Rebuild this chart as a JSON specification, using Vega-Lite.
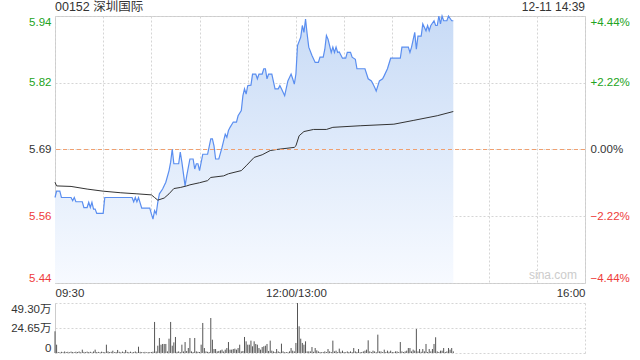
{
  "$schema": "https://vega.github.io/schema/vega-lite/v6.json",
  "padding": {"left": 10, "top": 0, "right": 0, "bottom": 0},
  "background": "white",
  "spacing": 3,
  "config": {
    "font": "Liberation Sans, Noto Sans CJK SC",
    "view": {"stroke": null},
    "axis": {"labelFontSize": 11.5, "ticks": false, "domain": false, "title": null, "labelFont": "Liberation Sans, Noto Sans CJK SC", "gridColor": "#d5d5d5", "gridDash": [2, 2], "labelPadding": 4}
  },
  "datasets": {
    "price": [
      {"t":0,"p":5.599},{"t":1,"p":5.611},{"t":3,"p":5.611},{"t":4,"p":5.599},{"t":10,"p":5.599},{"t":11,"p":5.593},{"t":12,"p":5.599},{"t":13,"p":5.591},{"t":17,"p":5.591},{"t":18,"p":5.58},{"t":20,"p":5.58},{"t":21,"p":5.59},{"t":22,"p":5.58},{"t":23,"p":5.59},{"t":24,"p":5.577},{"t":25,"p":5.577},{"t":26,"p":5.569},{"t":30,"p":5.569},{"t":31,"p":5.599},{"t":48,"p":5.599},{"t":49,"p":5.591},{"t":50,"p":5.599},{"t":51,"p":5.591},{"t":52,"p":5.599},{"t":54,"p":5.579},{"t":59,"p":5.579},{"t":60,"p":5.568},{"t":61,"p":5.558},{"t":62,"p":5.574},{"t":63,"p":5.568},{"t":64,"p":5.59},{"t":65,"p":5.606},{"t":67,"p":5.615},{"t":69,"p":5.628},{"t":71,"p":5.65},{"t":72,"p":5.666},{"t":73,"p":5.691},{"t":74,"p":5.663},{"t":77,"p":5.663},{"t":78,"p":5.685},{"t":79,"p":5.666},{"t":81,"p":5.621},{"t":82,"p":5.64},{"t":84,"p":5.672},{"t":86,"p":5.672},{"t":87,"p":5.653},{"t":88,"p":5.663},{"t":89,"p":5.663},{"t":90,"p":5.65},{"t":92,"p":5.681},{"t":95,"p":5.681},{"t":97,"p":5.71},{"t":98,"p":5.71},{"t":99,"p":5.697},{"t":100,"p":5.672},{"t":102,"p":5.672},{"t":104,"p":5.694},{"t":106,"p":5.719},{"t":107,"p":5.713},{"t":108,"p":5.726},{"t":109,"p":5.732},{"t":111,"p":5.742},{"t":113,"p":5.742},{"t":114,"p":5.754},{"t":116,"p":5.764},{"t":117,"p":5.792},{"t":118,"p":5.805},{"t":119,"p":5.795},{"t":120,"p":5.811},{"t":122,"p":5.812},{"t":123,"p":5.833},{"t":125,"p":5.833},{"t":126,"p":5.824},{"t":127,"p":5.833},{"t":129,"p":5.833},{"t":130,"p":5.843},{"t":131,"p":5.843},{"t":132,"p":5.824},{"t":133,"p":5.833},{"t":135,"p":5.833},{"t":137,"p":5.805},{"t":139,"p":5.805},{"t":140,"p":5.811},{"t":141,"p":5.805},{"t":143,"p":5.792},{"t":145,"p":5.82},{"t":147,"p":5.833},{"t":148,"p":5.824},{"t":149,"p":5.814},{"t":150,"p":5.833},{"t":151,"p":5.887},{"t":153,"p":5.903},{"t":154,"p":5.925},{"t":155,"p":5.912},{"t":156,"p":5.937},{"t":157,"p":5.909},{"t":158,"p":5.884},{"t":160,"p":5.868},{"t":162,"p":5.855},{"t":164,"p":5.855},{"t":165,"p":5.865},{"t":167,"p":5.865},{"t":168,"p":5.88},{"t":169,"p":5.906},{"t":170,"p":5.899},{"t":172,"p":5.874},{"t":173,"p":5.884},{"t":174,"p":5.874},{"t":175,"p":5.884},{"t":176,"p":5.874},{"t":177,"p":5.875},{"t":179,"p":5.863},{"t":181,"p":5.863},{"t":182,"p":5.874},{"t":184,"p":5.874},{"t":185,"p":5.865},{"t":187,"p":5.861},{"t":188,"p":5.843},{"t":193,"p":5.843},{"t":195,"p":5.824},{"t":197,"p":5.82},{"t":198,"p":5.814},{"t":199,"p":5.808},{"t":200,"p":5.801},{"t":202,"p":5.82},{"t":204,"p":5.824},{"t":205,"p":5.83},{"t":207,"p":5.843},{"t":209,"p":5.863},{"t":215,"p":5.863},{"t":216,"p":5.884},{"t":220,"p":5.884},{"t":221,"p":5.874},{"t":222,"p":5.884},{"t":224,"p":5.912},{"t":225,"p":5.88},{"t":226,"p":5.905},{"t":228,"p":5.905},{"t":229,"p":5.928},{"t":231,"p":5.915},{"t":232,"p":5.925},{"t":233,"p":5.915},{"t":234,"p":5.925},{"t":236,"p":5.934},{"t":237,"p":5.925},{"t":238,"p":5.925},{"t":239,"p":5.943},{"t":240,"p":5.928},{"t":241,"p":5.943},{"t":242,"p":5.934},{"t":244,"p":5.934},{"t":245,"p":5.943},{"t":247,"p":5.934},{"t":248,"p":5.934}
    ],
    "avg": [
      {"t":0,"p":5.628},{"t":1,"p":5.621},{"t":10,"p":5.62},{"t":20,"p":5.615},{"t":30,"p":5.611},{"t":41,"p":5.608},{"t":51,"p":5.606},{"t":60,"p":5.604},{"t":62,"p":5.599},{"t":64,"p":5.594},{"t":68,"p":5.598},{"t":71,"p":5.606},{"t":74,"p":5.616},{"t":78,"p":5.618},{"t":82,"p":5.621},{"t":84,"p":5.623},{"t":90,"p":5.627},{"t":95,"p":5.631},{"t":97,"p":5.637},{"t":105,"p":5.64},{"t":108,"p":5.644},{"t":116,"p":5.65},{"t":119,"p":5.659},{"t":124,"p":5.675},{"t":129,"p":5.68},{"t":134,"p":5.688},{"t":138,"p":5.69},{"t":149,"p":5.694},{"t":150,"p":5.697},{"t":152,"p":5.716},{"t":155,"p":5.724},{"t":161,"p":5.728},{"t":169,"p":5.728},{"t":173,"p":5.732},{"t":190,"p":5.735},{"t":211,"p":5.738},{"t":223,"p":5.745},{"t":238,"p":5.754},{"t":248,"p":5.762}
    ],
    "vol": [
      {"t":0,"v":21.4},{"t":1,"v":8.2},{"t":2,"v":1.0},{"t":3,"v":0.6},{"t":4,"v":1.2},{"t":5,"v":0.8},{"t":6,"v":1.5},{"t":7,"v":0.9},{"t":8,"v":1.2},{"t":9,"v":0.7},{"t":10,"v":1.4},{"t":11,"v":1.0},{"t":12,"v":0.8},{"t":13,"v":1.3},{"t":14,"v":0.9},{"t":15,"v":1.5},{"t":16,"v":0.7},{"t":17,"v":3.3},{"t":18,"v":1.1},{"t":19,"v":0.8},{"t":20,"v":1.4},{"t":21,"v":0.9},{"t":22,"v":1.2},{"t":23,"v":0.6},{"t":24,"v":1.5},{"t":25,"v":3.3},{"t":26,"v":0.9},{"t":27,"v":1.1},{"t":28,"v":0.7},{"t":29,"v":1.3},{"t":30,"v":1.0},{"t":31,"v":0.8},{"t":32,"v":8.2},{"t":33,"v":1.6},{"t":34,"v":0.9},{"t":35,"v":1.2},{"t":36,"v":2.3},{"t":37,"v":0.8},{"t":38,"v":1.0},{"t":39,"v":3.0},{"t":40,"v":1.2},{"t":41,"v":0.7},{"t":42,"v":1.4},{"t":43,"v":0.9},{"t":44,"v":3.0},{"t":45,"v":1.1},{"t":46,"v":0.8},{"t":47,"v":1.3},{"t":48,"v":0.6},{"t":49,"v":1.0},{"t":50,"v":1.5},{"t":51,"v":0.8},{"t":52,"v":6.2},{"t":53,"v":1.2},{"t":54,"v":0.9},{"t":55,"v":0.7},{"t":56,"v":1.1},{"t":57,"v":0.6},{"t":58,"v":0.9},{"t":59,"v":0.8},{"t":60,"v":1.0},{"t":61,"v":1.3},
      {"t":62,"v":30.6},{"t":63,"v":1.5},{"t":64,"v":7.2},{"t":65,"v":14.8},{"t":66,"v":8.2},{"t":67,"v":8.9},{"t":68,"v":8.9},{"t":69,"v":8.9},{"t":70,"v":1.6},{"t":71,"v":14.1},{"t":72,"v":30.6},{"t":73,"v":7.2},{"t":74,"v":10.5},{"t":75,"v":15.8},{"t":76,"v":1.2},{"t":77,"v":1.6},{"t":78,"v":0.9},{"t":79,"v":8.2},{"t":80,"v":1.5},{"t":81,"v":10.8},{"t":82,"v":2.0},{"t":83,"v":4.9},{"t":84,"v":14.8},{"t":85,"v":1.6},{"t":86,"v":1.0},{"t":87,"v":14.8},{"t":88,"v":1.6},{"t":89,"v":1.2},{"t":90,"v":1.0},{"t":91,"v":8.2},{"t":92,"v":29.6},{"t":93,"v":4.9},{"t":94,"v":1.6},{"t":95,"v":1.2},{"t":96,"v":1.0},{"t":97,"v":34.5},{"t":98,"v":13.1},{"t":99,"v":3.9},{"t":100,"v":3.9},{"t":101,"v":1.6},{"t":102,"v":2.0},{"t":103,"v":2.6},{"t":104,"v":3.3},{"t":105,"v":1.5},{"t":106,"v":3.3},{"t":107,"v":4.9},{"t":108,"v":10.8},{"t":109,"v":3.3},{"t":110,"v":3.3},{"t":111,"v":3.9},{"t":112,"v":4.3},{"t":113,"v":3.3},{"t":114,"v":4.9},{"t":115,"v":8.2},{"t":116,"v":1.6},{"t":117,"v":2.0},{"t":118,"v":15.8},{"t":119,"v":11.5},{"t":120,"v":8.2},{"t":121,"v":8.2},{"t":122,"v":12.2},{"t":123,"v":6.6},{"t":124,"v":11.5},{"t":125,"v":8.9},{"t":126,"v":8.2},{"t":127,"v":4.9},{"t":128,"v":3.3},{"t":129,"v":5.9},{"t":130,"v":6.6},{"t":131,"v":7.2},{"t":132,"v":8.9},{"t":133,"v":2.0},{"t":134,"v":12.2},{"t":135,"v":2.3},{"t":136,"v":1.6},{"t":137,"v":1.0},{"t":138,"v":3.9},{"t":139,"v":1.6},{"t":140,"v":1.0},{"t":141,"v":9.2},{"t":142,"v":1.6},{"t":143,"v":0.8},{"t":144,"v":1.0},{"t":145,"v":0.7},{"t":146,"v":1.6},{"t":147,"v":4.9},{"t":148,"v":2.3},{"t":149,"v":1.6},{"t":150,"v":9.9},{"t":151,"v":49.3},{"t":152,"v":26.3},{"t":153,"v":14.1},{"t":154,"v":9.9},{"t":155,"v":8.2},{"t":156,"v":11.5},{"t":157,"v":1.6},{"t":158,"v":1.6},{"t":159,"v":1.6},{"t":160,"v":5.9},{"t":161,"v":1.2},{"t":162,"v":4.9},{"t":163,"v":2.6},{"t":164,"v":1.6},{"t":165,"v":1.0},{"t":166,"v":0.8},{"t":167,"v":1.0},{"t":168,"v":1.6},{"t":169,"v":0.9},{"t":170,"v":3.9},{"t":171,"v":1.6},{"t":172,"v":1.0},{"t":173,"v":12.2},{"t":174,"v":1.6},{"t":175,"v":2.3},{"t":176,"v":0.9},{"t":177,"v":4.3},{"t":178,"v":1.2},{"t":179,"v":2.3},{"t":180,"v":1.0},{"t":181,"v":0.8},{"t":182,"v":1.6},{"t":183,"v":1.0},{"t":184,"v":1.6},{"t":185,"v":0.9},{"t":186,"v":4.9},{"t":187,"v":1.6},{"t":188,"v":1.0},{"t":189,"v":3.9},{"t":190,"v":0.8},{"t":191,"v":1.0},{"t":192,"v":1.6},{"t":193,"v":2.3},{"t":194,"v":3.3},{"t":195,"v":12.5},{"t":196,"v":1.6},{"t":197,"v":0.9},{"t":198,"v":2.3},{"t":199,"v":1.6},{"t":200,"v":0.8},{"t":201,"v":18.1},{"t":202,"v":1.6},{"t":203,"v":1.6},{"t":204,"v":0.9},{"t":205,"v":3.3},{"t":206,"v":1.0},{"t":207,"v":2.3},{"t":208,"v":1.2},{"t":209,"v":2.3},{"t":210,"v":1.0},{"t":211,"v":0.8},{"t":212,"v":1.6},{"t":213,"v":1.6},{"t":214,"v":0.9},{"t":215,"v":10.8},{"t":216,"v":1.6},{"t":217,"v":0.9},{"t":218,"v":1.6},{"t":219,"v":2.3},{"t":220,"v":4.9},{"t":221,"v":4.9},{"t":222,"v":1.6},{"t":223,"v":3.3},{"t":224,"v":2.3},{"t":225,"v":23.7},{"t":226,"v":1.6},{"t":227,"v":3.9},{"t":228,"v":1.2},{"t":229,"v":3.9},{"t":230,"v":1.6},{"t":231,"v":8.9},{"t":232,"v":1.0},{"t":233,"v":3.9},{"t":234,"v":1.6},{"t":235,"v":3.9},{"t":236,"v":8.9},{"t":237,"v":15.5},{"t":238,"v":1.6},{"t":239,"v":1.0},{"t":240,"v":2.3},{"t":241,"v":2.3},{"t":242,"v":4.9},{"t":243,"v":1.0},{"t":244,"v":1.6},{"t":245,"v":4.9},{"t":246,"v":3.3},{"t":247,"v":4.9},{"t":248,"v":1.6}
    ]
  },
  "vconcat": [
    {
      "width": 530,
      "height": 267,
      "view": {"stroke": "#cccccc"},
      "layer": [
        {
          "layer": [
            {
              "data": {"name": "price"},
              "mark": {"type": "area", "color": {"gradient": "linear", "x1": 0, "y1": 0, "x2": 0, "y2": 1, "stops": [{"offset": 0, "color": "#c8dbf6"}, {"offset": 1, "color": "#f7faff"}]}},
              "encoding": {
                "x": {"field": "t", "type": "quantitative", "scale": {"domain": [0, 330], "nice": false, "zero": false},
                  "axis": {"values": [0, 30, 60, 90, 120, 150, 180, 210, 240, 270, 300, 330], "labelExpr": "datum.value == 0 ? '09:30' : datum.value == 150 ? '12:00/13:00' : datum.value == 330 ? '16:00' : ''", "labelFlush": true, "labelOverlap": false, "grid": true, "labelColor": "#333333"}},
                "y": {"field": "p", "type": "quantitative", "scale": {"domain": [5.437, 5.943], "nice": false, "zero": false},
                  "axis": {"values": [5.437, 5.5635, 5.69, 5.8165, 5.943], "format": ".2f", "labelFlush": true, "grid": true,
                    "labelColor": {"condition": [{"test": "datum.value > 5.7", "value": "#22a322"}, {"test": "datum.value < 5.68", "value": "#ee3b3b"}], "value": "#333333"}}},
                "y2": {"datum": 5.437}
              }
            },
            {
              "data": {"name": "price"},
              "mark": {"type": "line", "color": "#5a8ef0", "strokeWidth": 1.2},
              "encoding": {"x": {"field": "t", "type": "quantitative"}, "y": {"field": "p", "type": "quantitative"}}
            },
            {
              "data": {"name": "avg"},
              "mark": {"type": "line", "color": "#333333", "strokeWidth": 1},
              "encoding": {"x": {"field": "t", "type": "quantitative"}, "y": {"field": "p", "type": "quantitative"}}
            },
            {
              "data": {"values": [{"t": 0, "label": "00152 深圳国际"}]},
              "mark": {"type": "text", "align": "left", "baseline": "bottom", "dy": -2, "fontSize": 12.5, "color": "#333333"},
              "encoding": {"x": {"field": "t", "type": "quantitative"}, "y": {"datum": 5.943, "type": "quantitative"}, "text": {"field": "label"}}
            },
            {
              "data": {"values": [{"t": 330, "label": "12-11 14:39"}]},
              "mark": {"type": "text", "align": "right", "baseline": "bottom", "dy": -2, "fontSize": 12, "color": "#333333"},
              "encoding": {"x": {"field": "t", "type": "quantitative"}, "y": {"datum": 5.943, "type": "quantitative"}, "text": {"field": "label"}}
            },
            {
              "data": {"values": [{"t": 330, "label": "sina.com"}]},
              "mark": {"type": "text", "align": "right", "baseline": "bottom", "dx": -8, "dy": -1, "fontSize": 12, "color": "#cccccc"},
              "encoding": {"x": {"field": "t", "type": "quantitative"}, "y": {"datum": 5.437, "type": "quantitative"}, "text": {"field": "label"}}
            }
          ]
        },
        {
          "data": {"values": [{"pct": 0}]},
          "mark": {"type": "rule", "color": "#f0a070", "strokeDash": [4, 3], "strokeWidth": 1},
          "encoding": {
            "y": {"field": "pct", "type": "quantitative", "scale": {"domain": [-4.44, 4.44], "nice": false, "zero": false},
              "axis": {"orient": "right", "values": [-4.44, -2.22, 0, 2.22, 4.44], "labelExpr": "(datum.value > 0 ? '+' : '') + format(datum.value, '.2f') + '%'", "labelFlush": true, "grid": false, "labelPadding": 5,
                "labelColor": {"condition": [{"test": "datum.value > 0.01", "value": "#22a322"}, {"test": "datum.value < -0.01", "value": "#ee3b3b"}], "value": "#333333"}}}
          }
        }
      ],
      "resolve": {"scale": {"y": "independent"}, "axis": {"y": "independent"}}
    },
    {
      "width": 530,
      "height": 50,
      "data": {"name": "vol"},
      "mark": {"type": "rule", "color": "#555555", "strokeWidth": 1},
      "encoding": {
        "x": {"field": "t", "type": "quantitative", "scale": {"domain": [0, 330], "nice": false, "zero": false},
          "axis": {"values": [0, 330], "labels": false, "grid": true}},
        "y": {"field": "v", "type": "quantitative", "scale": {"domain": [0, 49.3], "nice": false},
          "axis": {"values": [0, 24.65, 49.3], "labelExpr": "datum.value == 0 ? '0' : format(datum.value, '.2f') + '万'", "labelFlush": true, "grid": true, "domain": true, "domainColor": "#cccccc", "labelColor": "#333333"}},
        "y2": {"datum": 0}
      }
    }
  ]
}
